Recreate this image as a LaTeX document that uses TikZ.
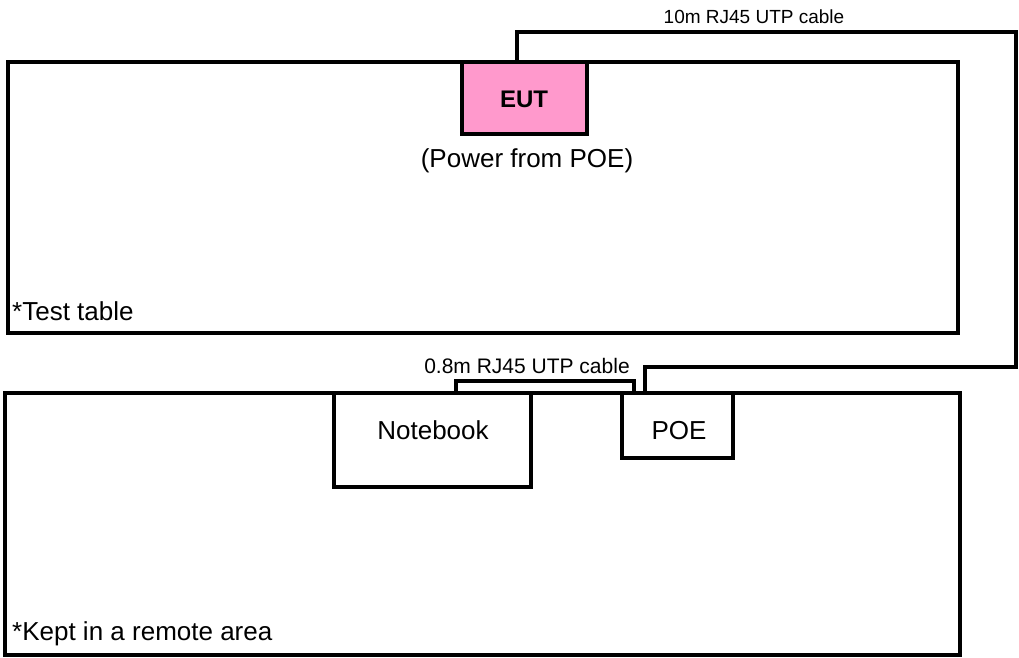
\documentclass[tikz,border=0pt]{standalone}
\usepackage{fontspec}
\setmainfont{Liberation Sans}
\definecolor{eutpink}{HTML}{FF99CC}
\begin{document}
\begin{tikzpicture}[x=1pt,y=-1pt,
  box/.style={draw=black,line width=3.5pt,rectangle,anchor=north west,inner sep=0pt,outer sep=0pt},
  cable/.style={draw=black,line width=3.5pt},
  lbl/.style={inner sep=0pt,anchor=base},
  big/.style={font=\fontsize{26}{30}\selectfont}]
\useasboundingbox (0,0) rectangle (1019,657);
% tables
\node[box,minimum width=950pt,minimum height=271pt] (tt) at (8,62) {};
\node[box,minimum width=955pt,minimum height=262pt] (rt) at (5,393) {};
% devices
\node[box,fill=eutpink,minimum width=125pt,minimum height=72pt] (eut) at (462,62) {};
\node[box,fill=white,minimum width=197pt,minimum height=94pt] (nb) at (334,393) {};
\node[box,fill=white,minimum width=111pt,minimum height=65pt] (poe) at (622,393) {};
% texts
\node[lbl,font=\fontsize{24}{28}\selectfont\bfseries] (eutt) at (524,107) {EUT};
\node[lbl,big] (pwr) at (527,167) {(Power from POE)};
\node[lbl,big,anchor=base west] (ttl) at (12,320) {*Test table};
\node[lbl,big,anchor=base west] (rtl) at (12,640) {*Kept in a remote area};
\node[lbl,big] (nbt) at (433,439) {Notebook};
\node[lbl,big] (poet) at (679,439) {POE};
\node[lbl,font=\fontsize{19}{22}\selectfont] (c10) at (754,23) {10m RJ45 UTP cable};
\node[lbl,font=\fontsize{21}{24}\selectfont] (c08) at (527,373) {0.8m RJ45 UTP cable};
% cables
\coordinate (c10a) at (1016,32);
\coordinate (c10b) at (1016,367);
\draw[cable] ([xshift=55pt]eut.north west) |- (c10a) -- (c10b) -| ([xshift=23pt]poe.north west);
\draw[cable] ([xshift=122pt]nb.north west) -- ++(0,-12) -| ([xshift=12pt]poe.north west);
\end{tikzpicture}
\end{document}
